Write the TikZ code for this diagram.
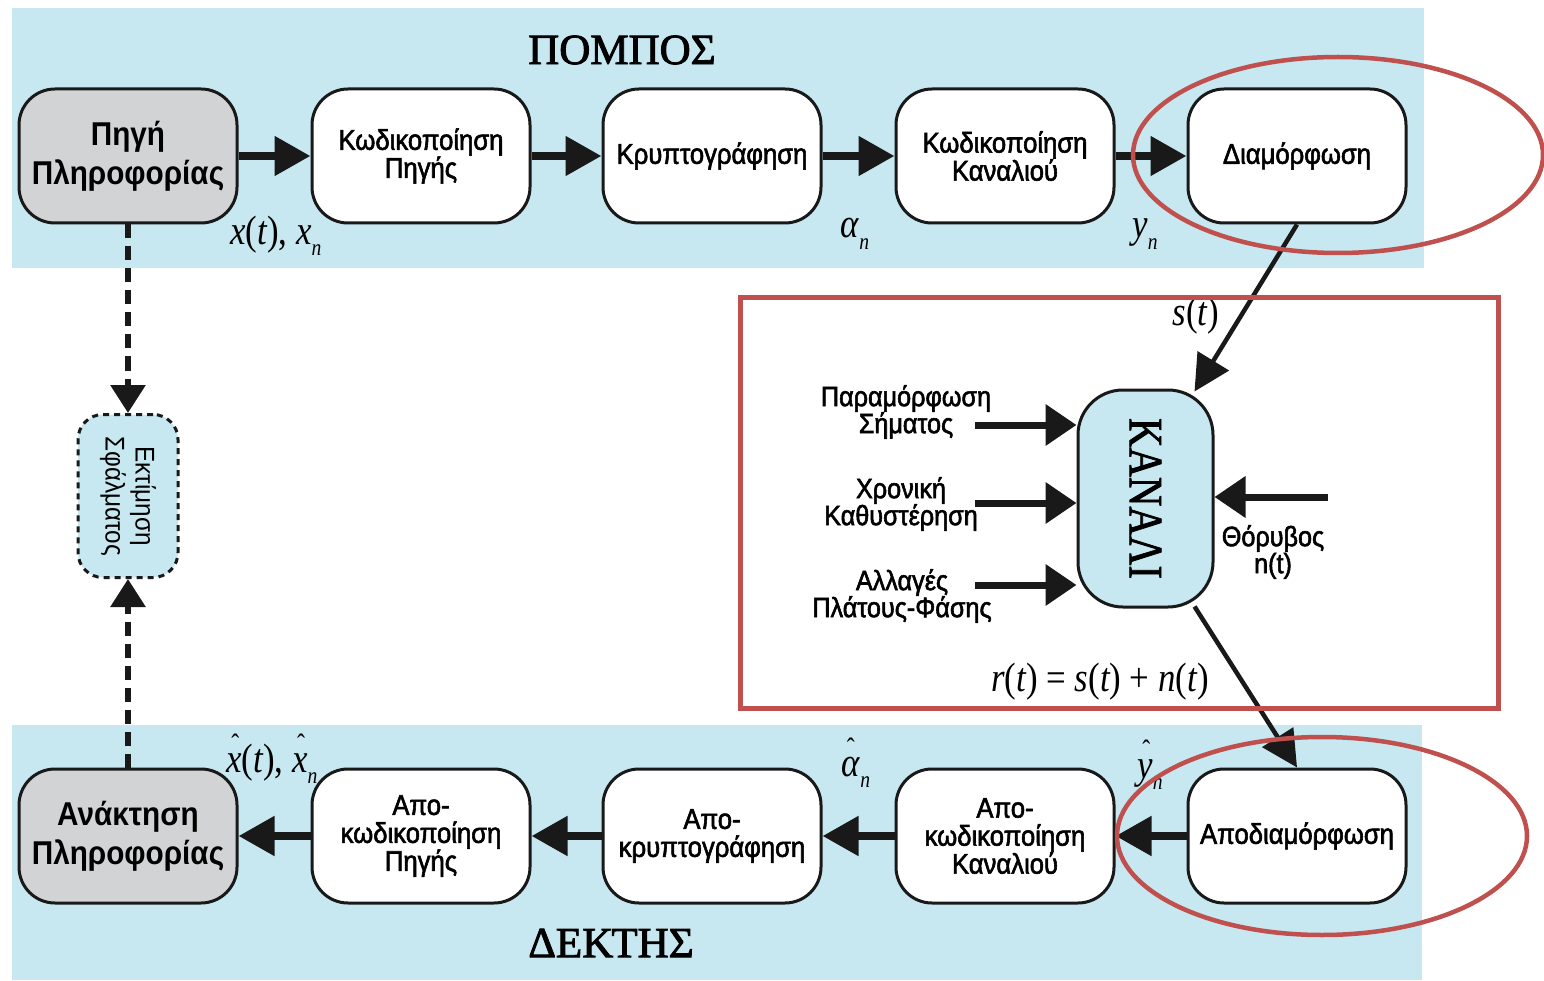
\documentclass[tikz,border=0pt]{standalone}
\usepackage{fontspec}
\setmainfont{Liberation Sans}
\newfontfamily\boxfont[FakeStretch=0.9,FakeBold=2]{Liberation Sans}
\newfontfamily\headfont[FakeStretch=0.9]{Liberation Sans}
\newfontfamily\titlefont[FakeBold=2]{Liberation Serif}
\newfontfamily\kanfont[FakeStretch=0.85,FakeBold=1.5]{Liberation Serif}
\newfontfamily\symfont[FakeStretch=0.85]{Liberation Serif}
\usetikzlibrary{arrows.meta,calc}

\definecolor{band}{RGB}{199,232,240}
\definecolor{boxgray}{RGB}{209,211,212}
\definecolor{mark}{RGB}{192,80,77}

% symbol helpers for the signal labels
\newcommand{\sbs}[1]{\raisebox{-0.28em}{\fontsize{23}{25}\selectfont #1}}
\newcommand{\hatted}[1]{\makebox[0pt][l]{\raisebox{0.46em}{\kern0.12em\upshape\fontsize{28}{28}\selectfont\char"02C6}}#1}

\tikzset{
  blk/.style={draw=black!90, line width=3pt, rounded corners=36pt,
    minimum width=218pt, minimum height=134pt, fill=white, align=center,
    inner sep=2pt, font=\boxfont\fontsize{28.5}{28}\selectfont},
  src/.style={blk, fill=boxgray, font=\headfont\bfseries\fontsize{33}{39}\selectfont},
  fwd/.style={draw=black!90, line width=8pt, -{Triangle[length=36pt,width=38pt]}},
  cin/.style={draw=black!90, line width=7pt, -{Triangle[length=31pt,width=40pt]}},
  diag/.style={draw=black!90, line width=4.5pt, -{Triangle[length=36pt,width=36pt]}},
  dfwd/.style={draw=black!90, line width=6pt, dash pattern=on 14pt off 8pt,
    -{Triangle[length=28pt,width=34pt]}},
  title/.style={font=\titlefont\fontsize{43}{46}\selectfont},
  sig/.style={font=\symfont\itshape\fontsize{41}{44}\selectfont, inner sep=0pt},
  chl/.style={align=center, font=\boxfont\fontsize{28}{27}\selectfont, inner sep=0pt},
  kanal/.style={draw=black!90, line width=3pt, rounded corners=45pt, fill=band,
    minimum width=135pt, minimum height=217pt},
  estbox/.style={draw=black!90, line width=3pt, dash pattern=on 6pt off 5pt,
    rounded corners=25pt, fill=band, minimum width=100pt, minimum height=163pt},
  note/.style={draw=mark, line width=4.5pt},
}

\begin{document}
\begin{tikzpicture}[x=1pt,y=1pt]
\useasboundingbox (0,0) rectangle (1544,-981);

% transmitter and receiver bands
\fill[band] (12,-8) rectangle (1424,-268);
\fill[band] (12,-725) rectangle (1422,-980);
\node[title] (tx) at (622,-50) {ΠΟΜΠΟΣ};
\node[title] (rx) at (611,-943) {ΔΕΚΤΗΣ};

% transmitter chain
\node[src] (src) at (128,-156) {Πηγή\\Πληροφορίας};
\node[blk] (senc) at (421,-156) {Κωδικοποίηση\\Πηγής};
\node[blk] (enc) at (712,-156) {Κρυπτογράφηση};
\node[blk] (cenc) at (1005,-156) {Κωδικοποίηση\\Καναλιού};
\node[blk] (mod) at (1297,-156) {Διαμόρφωση};
\draw[fwd] (src) -- (senc);
\draw[fwd] (senc) -- (enc);
\draw[fwd] (enc) -- (cenc);
\draw[fwd] (cenc) -- (mod);
\node[sig] (lx) at (276,-236) {x\upshape(\itshape t\upshape), \itshape x\sbs{n}};
\node[sig] (la) at (855,-234) {α\sbs{n}};
\node[sig] (ly) at (1145,-234) {y\sbs{n}};

% receiver chain
\node[src] (sink) at (128,-836) {Ανάκτηση\\Πληροφορίας};
\node[blk] (sdec) at (421,-836) {Απο-\\κωδικοποίηση\\Πηγής};
\node[blk] (dec) at (712,-836) {Απο-\\κρυπτογράφηση};
\node[blk] (cdec) at (1005,-836) {Απο-\\κωδικοποίηση\\Καναλιού};
\node[blk] (demod) at (1297,-836) {Αποδιαμόρφωση};
\draw[fwd] (demod) -- (cdec);
\draw[fwd] (cdec) -- (dec);
\draw[fwd] (dec) -- (sdec);
\draw[fwd] (sdec) -- (sink);
\node[sig, anchor=base] (lhx) at (272,-772) {\hatted{x}\upshape(\itshape t\upshape), \itshape\hatted{x}\sbs{n}};
\node[sig, anchor=base] (lha) at (856,-776) {\hatted{α}\sbs{n}};
\node[sig, anchor=base] (lhy) at (1150,-778) {\hatted{y}\sbs{n}};

% error estimation feedback
\node[estbox] (est) at (128,-496) {};
\node[rotate=-90, align=center, font=\headfont\fontsize{27}{30}\selectfont] (esttxt) at (est) {Εκτίμηση\\Σφάλματος};
\draw[dfwd] (src.south) -- (est.north);
\draw[dfwd] (sink.north) -- (est.south);

% channel
\node[kanal] (kan) at (1145.5,-498.5) {};
\node[rotate=-90, font=\kanfont\fontsize{48}{50}\selectfont] (kantxt) at (kan) {ΚΑΝΑΛΙ};

\coordinate (in1) at (975,-425);
\coordinate (in2) at (975,-503);
\coordinate (in3) at (975,-585);
\coordinate (nz) at (1328,-497);
\draw[cin] (in1) -- (in1 -| kan.west);
\draw[cin] (in2) -- (in2 -| kan.west);
\draw[cin] (in3) -- (in3 -| kan.west);
\draw[cin] (nz) -- (nz -| kan.east);
\node[chl] (l1) at (906,-412) {Παραμόρφωση\\Σήματος};
\node[chl] (l2) at (901,-504) {Χρονική\\Καθυστέρηση};
\node[chl] (l3) at (902,-596) {Αλλαγές\\Πλάτους-Φάσης};
\node[chl] (l4) at (1273,-552) {Θόρυβος\\n(t)};

\draw[diag] (mod.south) -- ($(kan.north east)+(-20,-3)$);
\draw[diag] ($(kan.south east)+(-20,2)$) -- (demod.north);
\node[sig] (ls) at (1196,-316) {s\upshape(\itshape t\upshape)};
\node[sig] (lr) at (1100,-682) {r\upshape(\itshape t\upshape) = \itshape s\upshape(\itshape t\upshape) + \itshape n\upshape(\itshape t\upshape)};

% highlighted regions
\draw[note, line width=5pt] (740,-298) rectangle (1498,-708);
\draw[note] (1338,-155) ellipse (205 and 98);
\draw[note] (1322,-836) ellipse (205 and 99);
\end{tikzpicture}
\end{document}
